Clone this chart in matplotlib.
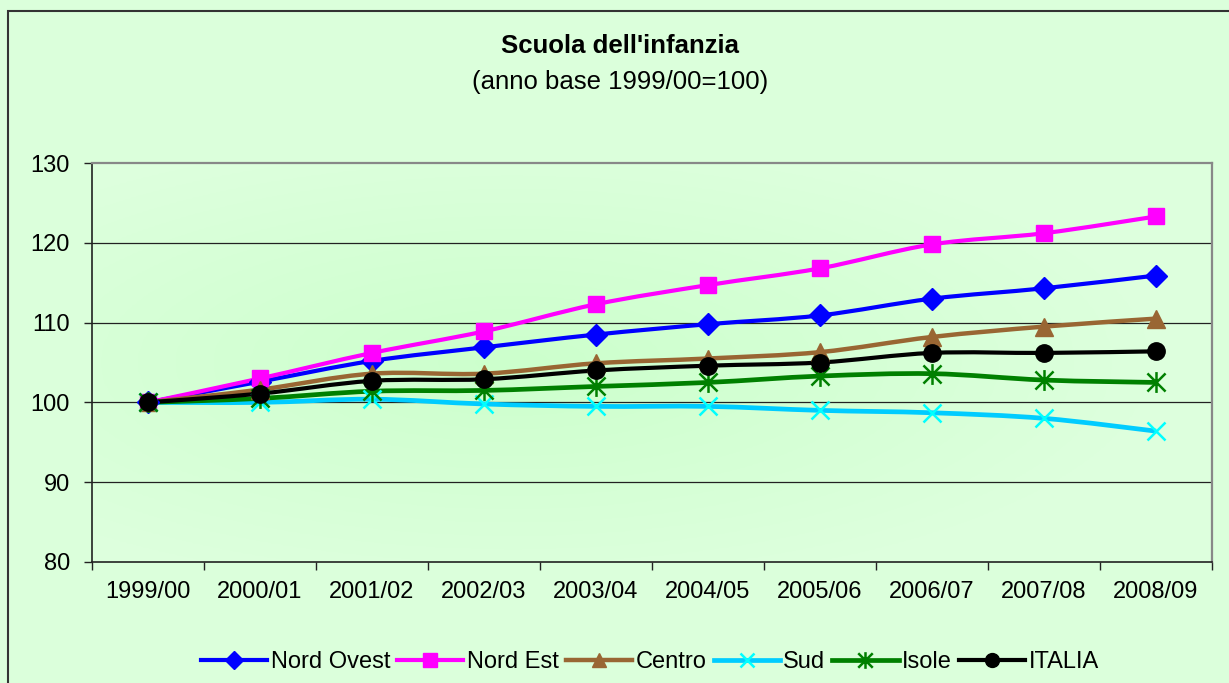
import numpy as np
import matplotlib
matplotlib.use('Agg')
import matplotlib.pyplot as plt
from matplotlib.path import Path
from matplotlib.patches import PathPatch, Rectangle
from matplotlib.lines import Line2D

plt.rcParams['font.family'] = ['Liberation Sans', 'DejaVu Sans']

# === Data (indice, anno base 1999/00 = 100) ===
anni = ['1999/00', '2000/01', '2001/02', '2002/03', '2003/04',
        '2004/05', '2005/06', '2006/07', '2007/08', '2008/09']
nord_ovest = [100, 102.6, 105.2, 106.9, 108.5, 109.8, 110.9, 113.0, 114.3, 115.9]
nord_est = [100, 103.0, 106.2, 108.9, 112.3, 114.7, 116.8, 119.8, 121.2, 123.3]
centro = [100, 101.6, 103.6, 103.6, 104.9, 105.5, 106.3, 108.2, 109.5, 110.5]
sud = [100, 100.0, 100.4, 99.8, 99.5, 99.5, 99.0, 98.7, 98.0, 96.4]
isole = [100, 100.5, 101.4, 101.5, 102.0, 102.5, 103.3, 103.6, 102.8, 102.5]
italia = [100, 101.1, 102.7, 102.9, 104.0, 104.6, 105.0, 106.2, 106.2, 106.4]

# Excel-like asterisk marker
star = Path([(-1, -1), (1, 1), (-1, 1), (1, -1), (0, -1.15), (0, 1.15)],
            [Path.MOVETO, Path.LINETO, Path.MOVETO, Path.LINETO, Path.MOVETO, Path.LINETO])

series = [
    # label, values, line colour, marker, marker colour, marker size, line width
    ('Nord Ovest', nord_ovest, '#0000FF', 'D', '#0000FF', 11, 3.0),
    ('Nord Est', nord_est, '#FF00FF', 's', '#FF00FF', 12, 3.0),
    ('Centro', centro, '#996633', '^', '#996633', 13, 3.2),
    ('Sud', sud, '#00CCFF', 'x', '#00FFFF', 13, 3.4),
    ('Isole', isole, '#008000', star, '#008000', 15, 3.4),
    ('ITALIA', italia, '#000000', 'o', '#000000', 12.5, 3.0),
]


def smooth_path(xs, ys):
    # bezier path like Excel's "smoothed line"
    pts = np.column_stack([xs, ys]).astype(float)
    n = len(pts)
    verts = [pts[0]]
    codes = [Path.MOVETO]
    for i in range(n - 1):
        p0 = pts[max(i - 1, 0)]
        p1 = pts[i]
        p2 = pts[i + 1]
        p3 = pts[min(i + 2, n - 1)]
        verts += [p1 + (p2 - p0) / 6, p2 - (p3 - p1) / 6, p2]
        codes += [Path.CURVE4] * 3
    return Path(verts, codes)


fig = plt.figure(figsize=(12.29, 6.83), dpi=100)
fig.patch.set_facecolor('#DBFFDB')
fig.patches.append(Rectangle((8 / 1229, -0.1), 1.2, 1 - 11 / 683 + 0.1,
                             transform=fig.transFigure, fill=False,
                             edgecolor='#333333', lw=1.5))

ax = fig.add_axes([92 / 1229, 1 - 562 / 683, 1120 / 1229, 399 / 683])

# soft radial gradient in plot area
gx, gy = np.meshgrid(np.linspace(-1, 1, 200), np.linspace(-1, 1, 200))
r = np.clip(np.sqrt((gx + 0.25) ** 2 + gy ** 2) / 1.2, 0, 1)
grad = np.zeros((200, 200, 3))
grad[..., 0] = 0.80 + 0.07 * r
grad[..., 1] = 1.0
grad[..., 2] = 0.80 + 0.07 * r
ax.imshow(grad, extent=[0, 1, 0, 1], transform=ax.transAxes, aspect='auto', zorder=0)

x = np.arange(len(anni))
for label, vals, lc, mk, mc, ms, lw in series:
    ax.add_patch(PathPatch(smooth_path(x, vals), fill=False, edgecolor=lc, lw=lw, zorder=3))
    ax.plot(x, vals, ls='none', marker=mk, ms=ms, color=mc, mec=mc,
            mew=1.8 if mk in ('x', star) else 1, zorder=4)

ax.set_xlim(-0.5, len(anni) - 0.5)
ax.set_ylim(80, 130)
ax.set_yticks([80, 90, 100, 110, 120, 130])
for yv in [90, 100, 110, 120]:
    ax.axhline(yv, color='#222222', lw=0.9, zorder=1)

ax.set_xticks(np.arange(-0.5, len(anni)), labels=[''] * (len(anni) + 1))
ax.set_xticks(x, labels=anni, minor=True)
ax.tick_params(axis='x', which='major', length=6, width=1, direction='out', color='#222222')
ax.tick_params(axis='x', which='minor', length=0, pad=14, labelsize=17)
ax.tick_params(axis='y', length=6, width=1, direction='out', color='#222222', pad=10, labelsize=17)

for s in ['left', 'bottom']:
    ax.spines[s].set_color('#222222')
    ax.spines[s].set_linewidth(1.2)
for s in ['top', 'right']:
    ax.spines[s].set_color('#888888')
    ax.spines[s].set_linewidth(1.6)

fig.text(0.5045, 1 - 46 / 683, "Scuola dell'infanzia", ha='center', va='center',
         fontsize=18.5, fontweight='bold')
fig.text(0.5045, 1 - 82 / 683, '(anno base 1999/00=100)', ha='center', va='center',
         fontsize=18.5)

handles = [Line2D([0], [0], color=lc, lw=lw, marker=mk, ms=ms * 0.8, mfc=mc, mec=mc,
                  mew=1.8 if mk in ('x', star) else 1)
           for label, vals, lc, mk, mc, ms, lw in series]
fig.legend(handles, [s[0] for s in series], loc='center', ncol=6,
           bbox_to_anchor=(650 / 1229, 1 - 662 / 683), frameon=False,
           fontsize=17, handlelength=2.8, handletextpad=0.15, columnspacing=0.3)

fig.savefig('out.png', dpi=100, facecolor=fig.get_facecolor())
